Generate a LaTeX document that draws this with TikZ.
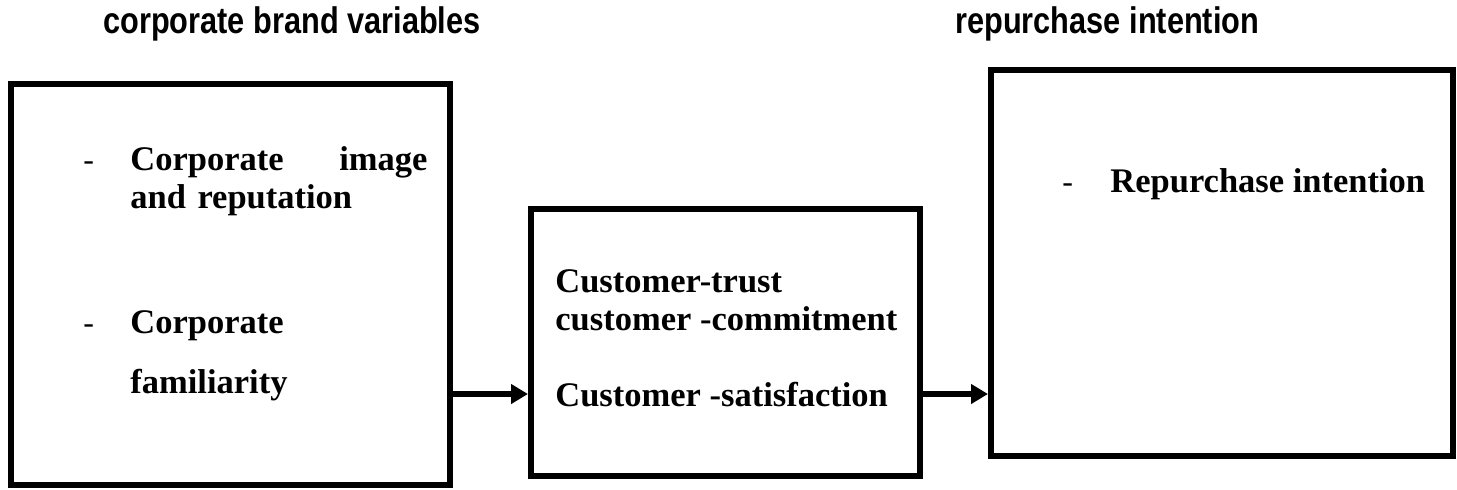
\documentclass[tikz,border=0pt]{standalone}
\usepackage{fontspec}
\setmainfont{Liberation Serif}
\newfontfamily\headfont[FakeStretch=0.83]{Liberation Sans}
\usetikzlibrary{arrows.meta,positioning}

\begin{document}
\begin{tikzpicture}[
  x=0.5pt, y=-0.5pt,
  line/.style={-{Triangle[length=8.5pt,width=9.5pt]}, line width=2.8pt},
  box/.style={rectangle, draw, line width=3pt, inner sep=0pt},
  txt/.style={anchor=base west, inner sep=0pt, align=left,
    font=\fontsize{17.25}{19}\selectfont\bfseries},
  dashmark/.style={anchor=base west, inner sep=0pt, font=\fontsize{16}{18}\selectfont},
  head/.style={anchor=base west, inner sep=0pt, font=\headfont\bfseries\fontsize{18.5}{20}\selectfont}
]
\useasboundingbox (0,0) rectangle (1457,489);

% Headings
\node[head] (brandhead) at (103,33) {corporate brand variables};
\node[head] (rephead) at (955,33) {repurchase intention};

% Boxes
\node[box, minimum width=219.5pt, minimum height=200.5pt] (brand) at (230.5,284.5) {};
\node[box, minimum width=194.5pt, minimum height=133.5pt] (customer) at (725.5,342.5) {};
\node[box, minimum width=231pt, minimum height=193pt] (repurchase) at (1222,263) {};

% Texts
\node[dashmark] (dashA) at (83,170) {-};
\node[txt, text width=148.5pt] (image) at (130,170) {Corporate\hfill image\\and reputation};
\node[dashmark] (dashB) at (83,333) {-};
\node[txt] (familiar) at (130,393) {Corporate\\[11pt]familiarity};
\node[txt] (trust) at (555,406) {Customer-trust\\customer -commitment\\[19pt]Customer -satisfaction};
\node[dashmark] (dashC) at (1062,192) {-};
\node[txt] (intent) at (1110,192) {Repurchase intention};

% Arrows
\coordinate (lvl) at (0,394);
\draw[line] (brand.east |- lvl) -- (customer.west |- lvl);
\draw[line] (customer.east |- lvl) -- (repurchase.west |- lvl);

\end{tikzpicture}
\end{document}
